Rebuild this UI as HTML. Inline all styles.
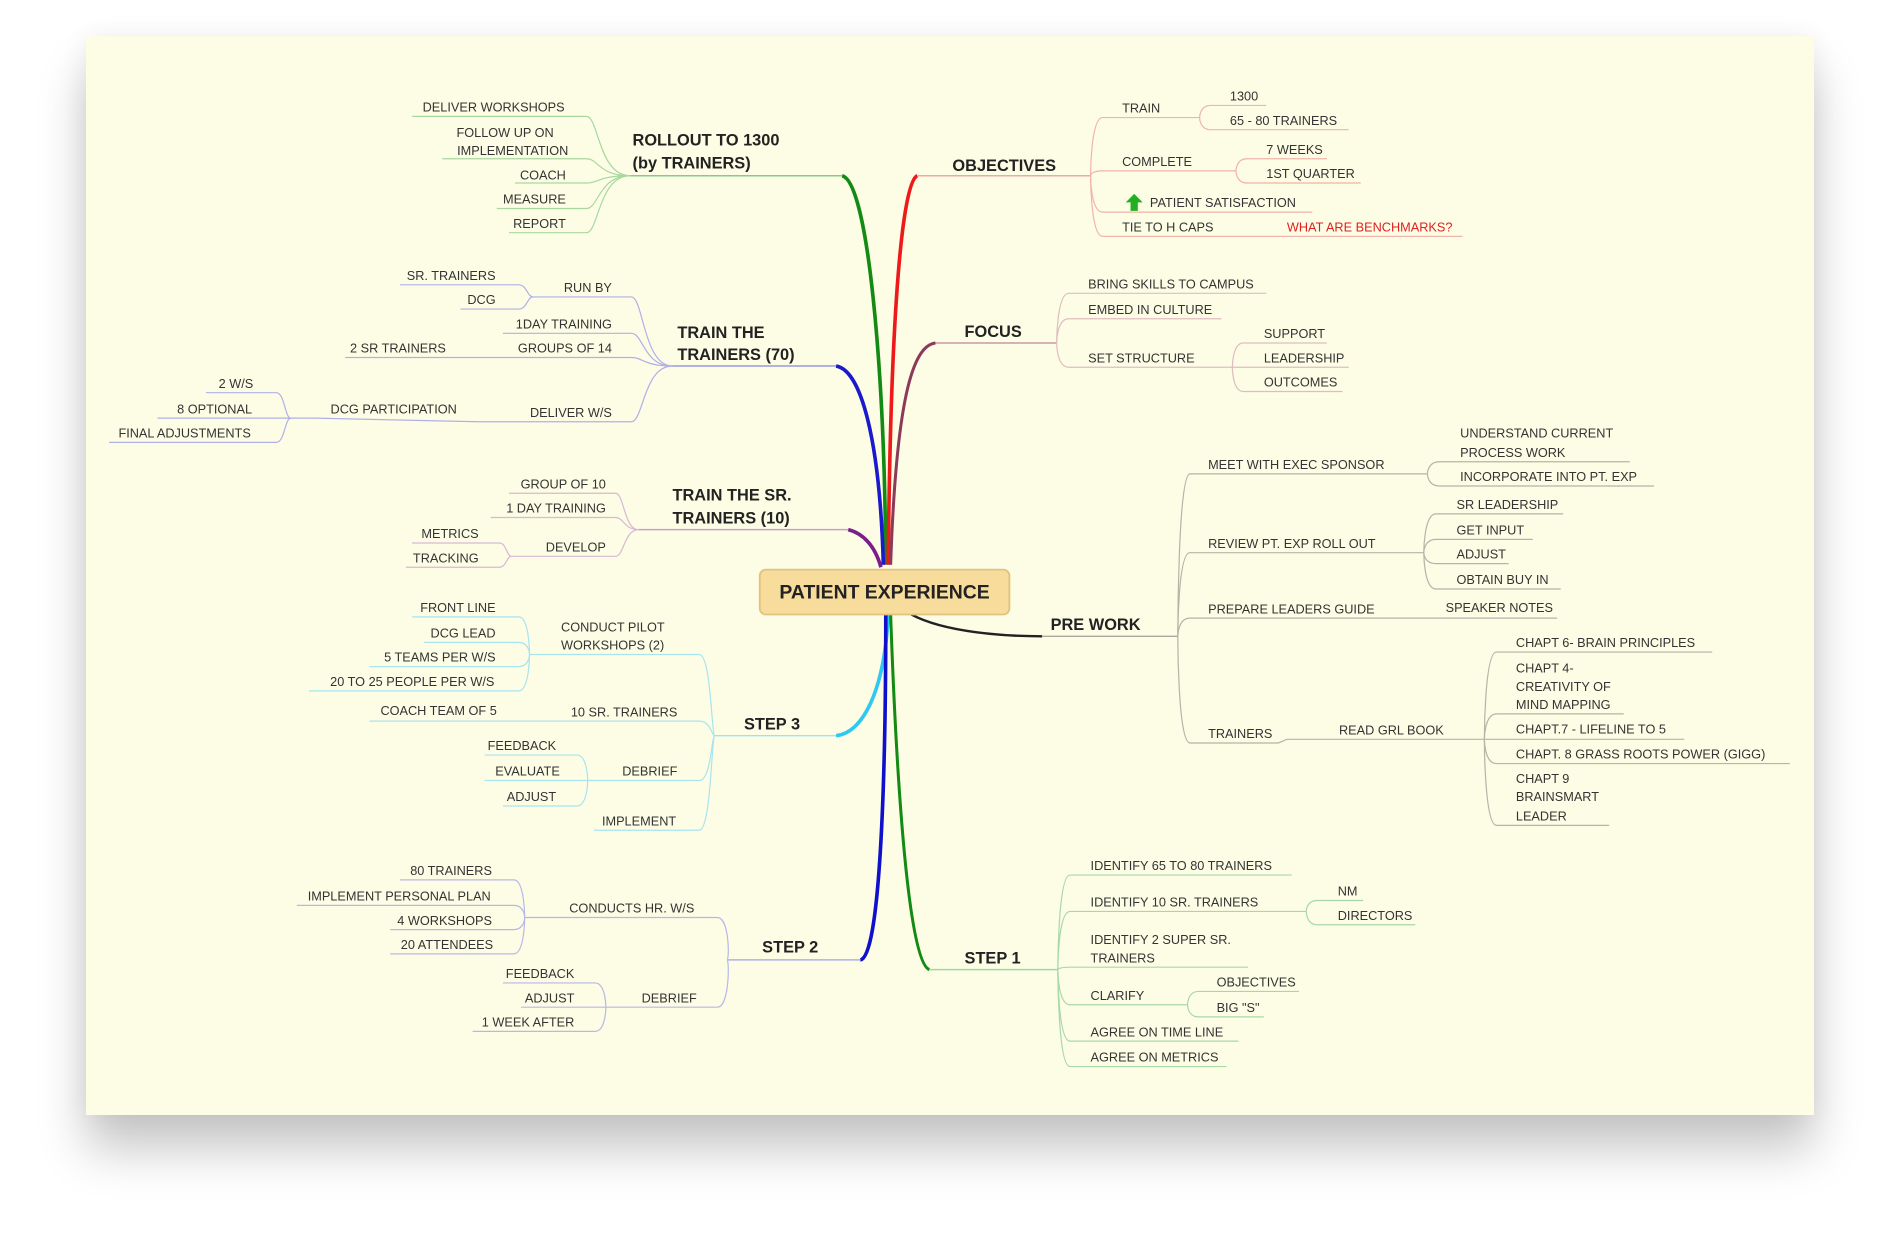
<!DOCTYPE html>
<html><head><meta charset="utf-8">
<style>
html,body{margin:0;padding:0;background:#fff;}
body{width:1900px;height:1252px;position:relative;overflow:hidden;}
#card{position:absolute;left:86px;top:36px;width:1728px;height:1079px;background:#fdfde6;box-shadow:0 35px 45px rgba(0,0,0,0.22),0 0 25px rgba(0,0,0,0.06);}
svg{position:absolute;left:0;top:0;}
text{font-family:"Liberation Sans",sans-serif;font-size:10.5px;fill:#333;}
.b{font-size:13.5px;font-weight:bold;fill:#222;}
.e{text-anchor:end;}
path{fill:none;}
</style></head><body>
<div id="card"></div>
<svg width="1900" height="1252" viewBox="0 0 1568 1033" preserveAspectRatio="none">
<!-- main curves -->
<path d="M731,466 C730,300 716,150 695,145" stroke="#138a13" stroke-width="3"/>
<path d="M733,466 C735,250 745,150 757,145" stroke="#ee1a1a" stroke-width="3"/>
<path d="M735,466 C740,320 755,285 772,283" stroke="#8b3a5a" stroke-width="2.5"/>
<path d="M729,466 C726,360 710,305 690,302" stroke="#1a1acc" stroke-width="3"/>
<path d="M727,468 C722,450 712,440 700,437" stroke="#7a1f8a" stroke-width="3"/>
<path d="M752,507 C780,522 830,525 860,525" stroke="#222" stroke-width="2"/>
<path d="M733,507 C730,570 712,605 690,607" stroke="#30c8f0" stroke-width="3"/>
<path d="M731,507 C731,650 726,790 710,792" stroke="#1010cc" stroke-width="3"/>
<path d="M735,507 C740,650 750,795 767,800" stroke="#138a13" stroke-width="2.5"/>
<g stroke-width="1.2">
<path d="M695,145 H520" stroke="#8cc88c"/>
<path d="M757,145 H900" stroke="#f0a8a0"/>
<path d="M772,283 H872" stroke="#c89aa8"/>
<path d="M690,302 H555" stroke="#9a9ae0"/>
<path d="M700,437 H527" stroke="#c8a0c8"/>
<path d="M860,525 H972" stroke="#a8a8a0"/>
<path d="M690,607 H590" stroke="#a0e0f0"/>
<path d="M710,792 H600" stroke="#b0b0e8"/>
<path d="M767,800 H873" stroke="#a0d8a0"/>
</g>
<!-- center -->
<rect x="627" y="470" width="206" height="37" rx="5" fill="#f8dc9c" stroke="#e2c27e" stroke-width="1.5"/>
<text x="730" y="494" class="b" text-anchor="middle" style="font-size:16px">PATIENT EXPERIENCE</text>

<!-- ROLLOUT -->
<g stroke="#a8d8a0" stroke-width="1">
<path d="M520,145 C494,145 494,96 484,96 H340"/>
<path d="M520,145 C494,145 494,131 484,131 H365"/>
<path d="M520,145 C494,145 494,151 484,151 H425"/>
<path d="M520,145 C494,145 494,172 484,172 H410"/>
<path d="M520,145 C494,145 494,192 484,192 H420"/>
</g>
<text x="522" y="120" class="b">ROLLOUT TO  1300</text>
<text x="522" y="139" class="b">(by TRAINERS)</text>
<text x="466" y="92" class="e">DELIVER WORKSHOPS</text>
<text x="457" y="113" class="e">FOLLOW UP ON</text>
<text x="469" y="128" class="e">IMPLEMENTATION</text>
<text x="467" y="148" class="e">COACH</text>
<text x="467" y="168" class="e">MEASURE</text>
<text x="467" y="188" class="e">REPORT</text>

<!-- TRAIN THE TRAINERS -->
<g stroke="#b0b0e8" stroke-width="1">
<path d="M555,302 C531,302 531,245 521,245 H440"/>
<path d="M555,302 C531,302 531,275 521,275 H415"/>
<path d="M555,302 C531,302 531,295 521,295 H285"/>
<path d="M555,302 C531,302 531,348 521,348 H395"/>
<path d="M440,245 C435,245 435,235 428,235 H330"/>
<path d="M440,245 C435,245 435,255 428,255 H380"/>
<path d="M395,348 L260,345 H240 C235,345 235,324 228,324 H170"/>
<path d="M240,345 H130"/>
<path d="M240,345 C235,345 235,365 228,365 H90"/>
</g>
<text x="559" y="279" class="b">TRAIN THE</text>
<text x="559" y="297" class="b">TRAINERS (70)</text>
<text x="505" y="241" class="e">RUN BY</text>
<text x="409" y="231" class="e">SR. TRAINERS</text>
<text x="409" y="251" class="e">DCG</text>
<text x="505" y="271" class="e">1DAY TRAINING</text>
<text x="505" y="291" class="e">GROUPS OF 14</text>
<text x="368" y="291" class="e">2 SR TRAINERS</text>
<text x="505" y="344" class="e">DELIVER  W/S</text>
<text x="377" y="341" class="e">DCG PARTICIPATION</text>
<text x="209" y="320" class="e">2 W/S</text>
<text x="208" y="341" class="e">8  OPTIONAL</text>
<text x="207" y="361" class="e">FINAL ADJUSTMENTS</text>

<!-- TRAIN THE SR -->
<g stroke="#d8b8d4" stroke-width="1">
<path d="M527,437 C515,437 515,407 508,407 H420"/>
<path d="M527,437 C515,437 515,427 508,427 H405"/>
<path d="M527,437 C515,437 515,459 508,459 H422"/>
<path d="M422,459 C418,459 418,448 412,448 H340"/>
<path d="M422,459 C418,459 418,468 412,468 H335"/>
</g>
<text x="555" y="413" class="b">TRAIN THE SR.</text>
<text x="555" y="432" class="b">TRAINERS (10)</text>
<text x="500" y="403" class="e">GROUP OF 10</text>
<text x="500" y="423" class="e">1 DAY TRAINING</text>
<text x="500" y="455" class="e">DEVELOP</text>
<text x="395" y="444" class="e">METRICS</text>
<text x="395" y="464" class="e">TRACKING</text>

<!-- STEP 3 -->
<g stroke="#a8e4ee" stroke-width="1">
<path d="M590,607 C587,607 587,540 577,540 H437"/>
<path d="M590,607 C587,607 587,595 577,595 H305"/>
<path d="M590,607 C587,607 587,644 577,644 H485"/>
<path d="M590,607 C587,607 587,685 577,685 H490"/>
<path d="M437,540 C437,540 437,509 428,509 H340"/>
<path d="M437,540 C437,540 437,530 428,530 H350"/>
<path d="M437,540 C437,540 437,550 428,550 H305"/>
<path d="M437,540 C437,540 437,570 428,570 H255"/>
<path d="M485,644 C485,644 485,623 476,623 H400"/>
<path d="M485,644 H400"/>
<path d="M485,644 C485,644 485,665 476,665 H415"/>
</g>
<text x="614" y="602" class="b">STEP 3</text>
<text x="463" y="521">CONDUCT PILOT</text>
<text x="463" y="536">WORKSHOPS (2)</text>
<text x="409" y="505" class="e">FRONT LINE</text>
<text x="409" y="526" class="e">DCG LEAD</text>
<text x="409" y="546" class="e">5 TEAMS PER W/S</text>
<text x="408" y="566" class="e">20 TO 25 PEOPLE PER W/S</text>
<text x="559" y="591" class="e">10 SR. TRAINERS</text>
<text x="410" y="590" class="e">COACH TEAM OF 5</text>
<text x="559" y="640" class="e">DEBRIEF</text>
<text x="459" y="619" class="e">FEEDBACK</text>
<text x="462" y="640" class="e">EVALUATE</text>
<text x="459" y="661" class="e">ADJUST</text>
<text x="558" y="681" class="e">IMPLEMENT</text>

<!-- STEP 2 -->
<g stroke="#b8b8e8" stroke-width="1">
<path d="M600,792 C602,792 602,757 592,757 H433"/>
<path d="M600,792 C602,792 602,831 592,831 H500"/>
<path d="M433,757 C433,757 433,726 424,726 H330"/>
<path d="M433,757 C433,757 433,747 424,747 H245"/>
<path d="M433,757 C433,757 433,767 424,767 H322"/>
<path d="M433,757 C433,757 433,787 424,787 H322"/>
<path d="M500,831 C500,831 500,811 491,811 H415"/>
<path d="M500,831 H430"/>
<path d="M500,831 C500,831 500,851 491,851 H390"/>
</g>
<text x="629" y="786" class="b">STEP 2</text>
<text x="573" y="753" class="e">CONDUCTS HR. W/S</text>
<text x="406" y="722" class="e">80 TRAINERS</text>
<text x="405" y="743" class="e">IMPLEMENT PERSONAL PLAN</text>
<text x="406" y="763" class="e">4 WORKSHOPS</text>
<text x="407" y="783" class="e">20 ATTENDEES</text>
<text x="575" y="827" class="e">DEBRIEF</text>
<text x="474" y="807" class="e">FEEDBACK</text>
<text x="474" y="827" class="e">ADJUST</text>
<text x="474" y="847" class="e">1 WEEK AFTER</text>

<!-- OBJECTIVES -->
<g stroke="#f0b4aa" stroke-width="1">
<path d="M900,145 C900,145 900,97 910,97 H990"/>
<path d="M900,145 C900,145 900,141 910,141 H1020"/>
<path d="M900,145 C900,145 900,175 910,175 H1083"/>
<path d="M900,145 C900,145 900,195 910,195 H1207"/>
<path d="M990,97 C990,97 990,87 999,87 H1045"/>
<path d="M990,97 C990,97 990,107 999,107 H1113"/>
<path d="M1020,141 C1020,141 1020,131 1029,131 H1095"/>
<path d="M1020,141 C1020,141 1020,151 1029,151 H1123"/>
</g>
<text x="786" y="141" class="b">OBJECTIVES</text>
<text x="926" y="93">TRAIN</text>
<text x="1015" y="83">1300</text>
<text x="1015" y="103">65 - 80 TRAINERS</text>
<text x="926" y="137">COMPLETE</text>
<text x="1045" y="127">7 WEEKS</text>
<text x="1045" y="147">1ST QUARTER</text>
<path d="M936,160 L943,167 H939 V174 H933 V167 H929 Z" style="fill:#22b022"/>
<text x="949" y="171">PATIENT SATISFACTION</text>
<text x="926" y="191">TIE TO H CAPS</text>
<text x="1062" y="191" style="fill:#e02020">WHAT ARE BENCHMARKS?</text>

<!-- FOCUS -->
<g stroke="#e0bcc0" stroke-width="1">
<path d="M872,283 C872,283 872,242 882,242 H1045"/>
<path d="M872,283 C872,283 872,263 882,263 H1008"/>
<path d="M872,283 C872,283 872,303 882,303 H1017"/>
<path d="M1017,303 C1017,303 1017,283 1026,283 H1095"/>
<path d="M1017,303 H1113"/>
<path d="M1017,303 C1017,303 1017,323 1026,323 H1108"/>
</g>
<text x="796" y="278" class="b">FOCUS</text>
<text x="898" y="238">BRING SKILLS TO CAMPUS</text>
<text x="898" y="259">EMBED IN CULTURE</text>
<text x="898" y="299">SET STRUCTURE</text>
<text x="1043" y="279">SUPPORT</text>
<text x="1043" y="299">LEADERSHIP</text>
<text x="1043" y="319">OUTCOMES</text>

<!-- PRE WORK -->
<g stroke="#b4b4a8" stroke-width="1">
<path d="M972,525 C972,525 972,391 982,391 H1178"/>
<path d="M972,525 C972,525 972,456 982,456 H1175"/>
<path d="M972,525 C972,525 972,510 982,510 H1285"/>
<path d="M972,525 C972,525 972,613 982,613 H1055 L1062,610 H1225"/>
<path d="M1178,391 C1178,391 1178,381 1188,381 H1345"/>
<path d="M1178,391 C1178,391 1178,401 1188,401 H1365"/>
<path d="M1175,456 C1175,456 1175,424 1185,424 H1290"/>
<path d="M1175,456 C1175,456 1175,445 1185,445 H1265"/>
<path d="M1175,456 C1175,456 1175,465 1185,465 H1245"/>
<path d="M1175,456 C1175,456 1175,486 1185,486 H1288"/>
<path d="M1225,610 C1225,610 1225,538 1235,538 H1413"/>
<path d="M1225,610 C1225,610 1225,589 1235,589 H1340"/>
<path d="M1225,610 H1390"/>
<path d="M1225,610 C1225,610 1225,630 1235,630 H1477"/>
<path d="M1225,610 C1225,610 1225,681 1235,681 H1328"/>
</g>
<text x="867" y="520" class="b">PRE WORK</text>
<text x="997" y="387">MEET WITH EXEC SPONSOR</text>
<text x="1205" y="361">UNDERSTAND CURRENT</text>
<text x="1205" y="377">PROCESS WORK</text>
<text x="1205" y="397">INCORPORATE INTO PT. EXP</text>
<text x="997" y="452">REVIEW PT. EXP ROLL OUT</text>
<text x="1202" y="420">SR LEADERSHIP</text>
<text x="1202" y="441">GET INPUT</text>
<text x="1202" y="461">ADJUST</text>
<text x="1202" y="482">OBTAIN BUY IN</text>
<text x="997" y="506">PREPARE LEADERS GUIDE</text>
<text x="1193" y="505">SPEAKER NOTES</text>
<text x="997" y="609">TRAINERS</text>
<text x="1105" y="606">READ GRL BOOK</text>
<text x="1251" y="534">CHAPT 6- BRAIN PRINCIPLES</text>
<text x="1251" y="555">CHAPT 4-</text>
<text x="1251" y="570">CREATIVITY OF</text>
<text x="1251" y="585">MIND MAPPING</text>
<text x="1251" y="605">CHAPT.7 - LIFELINE TO 5</text>
<text x="1251" y="626">CHAPT. 8 GRASS ROOTS POWER (GIGG)</text>
<text x="1251" y="646">CHAPT 9</text>
<text x="1251" y="661">BRAINSMART</text>
<text x="1251" y="677">LEADER</text>

<!-- STEP 1 -->
<g stroke="#a8d8a8" stroke-width="1">
<path d="M873,800 C873,800 873,722 883,722 H1066"/>
<path d="M873,800 C873,800 873,752 883,752 H1078"/>
<path d="M873,800 C873,800 873,798 883,798 H1030"/>
<path d="M873,800 C873,800 873,829 883,829 H980"/>
<path d="M873,800 C873,800 873,859 883,859 H1022"/>
<path d="M873,800 C873,800 873,880 883,880 H1012"/>
<path d="M1078,752 C1078,752 1078,743 1087,743 H1125"/>
<path d="M1078,752 C1078,752 1078,763 1087,763 H1168"/>
<path d="M980,829 C980,829 980,818 989,818 H1072"/>
<path d="M980,829 C980,829 980,839 989,839 H1043"/>
</g>
<text x="796" y="795" class="b">STEP 1</text>
<text x="900" y="718">IDENTIFY 65 TO 80 TRAINERS</text>
<text x="900" y="748">IDENTIFY 10 SR. TRAINERS</text>
<text x="1104" y="739">NM</text>
<text x="1104" y="759">DIRECTORS</text>
<text x="900" y="779">IDENTIFY 2 SUPER SR.</text>
<text x="900" y="794">TRAINERS</text>
<text x="900" y="825">CLARIFY</text>
<text x="1004" y="814">OBJECTIVES</text>
<text x="1004" y="835">BIG "S"</text>
<text x="900" y="855">AGREE ON TIME LINE</text>
<text x="900" y="876">AGREE ON METRICS</text>
</svg>
</body></html>
